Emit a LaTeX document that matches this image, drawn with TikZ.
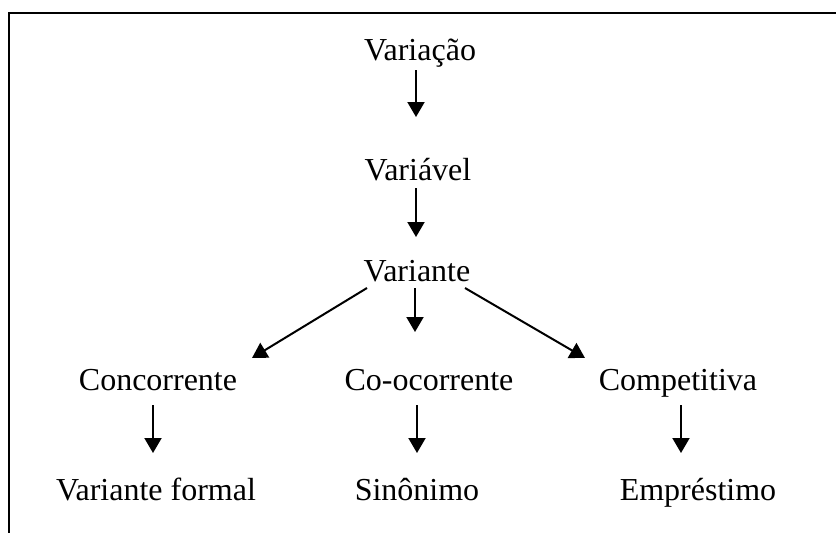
\documentclass[tikz,border=0pt]{standalone}
\usepackage{fontspec}
\setmainfont{Liberation Serif}
\usetikzlibrary{arrows.meta}
\begin{document}
\begin{tikzpicture}[x=1pt,y=-1pt,
  term/.style={anchor=base,inner sep=0pt,font=\fontsize{32}{38}\selectfont},
  arr/.style={line width=2pt,-{Triangle[width=17pt,length=15pt]}},
  frameline/.style={line width=2pt}]
\useasboundingbox (0,0) rectangle (836,533);
% open frame: top and left edges only
\draw[frameline] (8.5,533) -- (8.5,12.5) -- (836,12.5);
% terms
\node[term] (vao) at (420,60) {Variação};
\node[term] (vel) at (418,180) {Variável};
\node[term] (vte) at (417,281) {Variante};
\node[term] (con) at (158,390) {Concorrente};
\node[term] (coo) at (429,390) {Co-ocorrente};
\node[term] (com) at (678,390) {Competitiva};
\node[term] (vfo) at (156,500) {Variante formal};
\node[term] (sin) at (417,500) {Sinônimo};
\node[term] (emp) at (698,500) {Empréstimo};
% arrow ends
\coordinate (a1s) at (416,70);  \coordinate (a1t) at (416,117);
\coordinate (a2s) at (416,188); \coordinate (a2t) at (416,237);
\coordinate (bls) at (367,288); \coordinate (blt) at (252,358);
\coordinate (bms) at (415,288); \coordinate (bmt) at (415,332);
\coordinate (brs) at (465,288); \coordinate (brt) at (585,358);
\coordinate (c1s) at (153,405); \coordinate (c1t) at (153,453);
\coordinate (c2s) at (417,405); \coordinate (c2t) at (417,453);
\coordinate (c3s) at (681,405); \coordinate (c3t) at (681,453);
% connectors
\draw[arr] (a1s) -- (a1t);
\draw[arr] (a2s) -- (a2t);
\draw[arr] (bls) -- (blt);
\draw[arr] (bms) -- (bmt);
\draw[arr] (brs) -- (brt);
\draw[arr] (c1s) -- (c1t);
\draw[arr] (c2s) -- (c2t);
\draw[arr] (c3s) -- (c3t);
\end{tikzpicture}
\end{document}
